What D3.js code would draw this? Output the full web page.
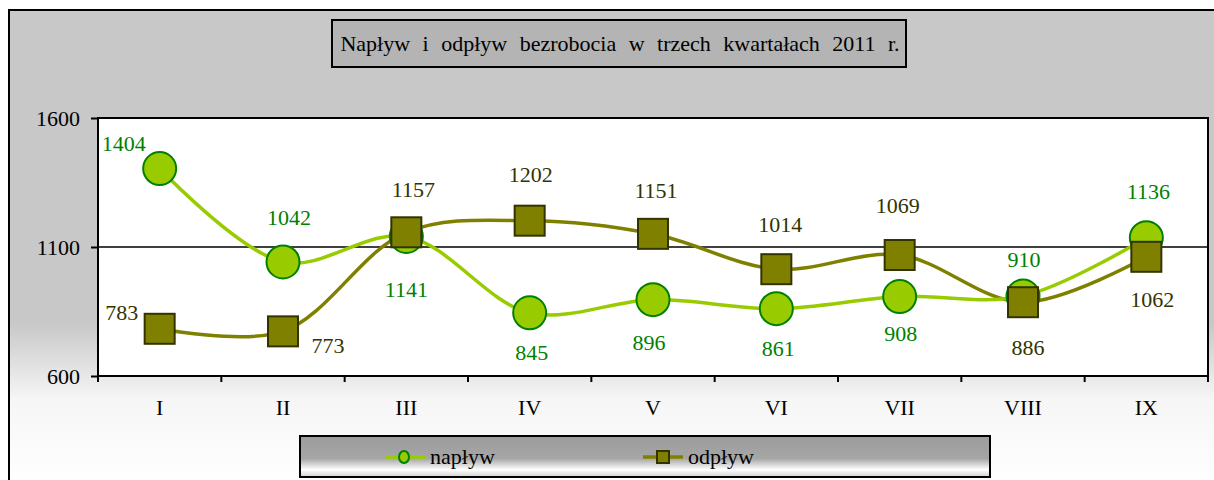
<!DOCTYPE html>
<html>
<head>
<meta charset="utf-8">
<script src="https://cdn.jsdelivr.net/npm/d3@7"></script>
<style>
  body { margin: 0; background: #fff; }
  svg text { font-family: "Liberation Serif", "Times New Roman", Times, "DejaVu Serif", serif; }
</style>
</head>
<body>
<svg id="chart1" width="1214" height="480"></svg>
<script>
// data
var months = ["I", "II", "III", "IV", "V", "VI", "VII", "VIII", "IX"];
var naplyw = [1404, 1042, 1141, 845, 896, 861, 908, 910, 1136];
var odplyw = [783, 773, 1157, 1202, 1151, 1014, 1069, 886, 1062];
var yTicks = [600, 1100, 1600];

// label offsets (dx, dy) from the marker centre
var napLbl = [[-36, -18], [6, -37], [0, 61], [2, 47], [-4, 50], [2, 47], [1, 44], [1, -29], [2, -39]];
var odpLbl = [[-38, -9], [45, 22], [7, -35], [1, -39], [3, -36], [4, -37], [-2, -42], [5, 53], [6, 50]];

var serif = "'Liberation Serif', 'Times New Roman', Times, 'DejaVu Serif', serif";
var fs = "22px";

var svg = d3.select('#chart1');
var defs = svg.append("defs");

var bg = defs.append("linearGradient").attr("id", "bgGrad")
	.attr("x1", 0).attr("y1", 0).attr("x2", 0).attr("y2", 1);
bg.append("stop").attr("offset", "0").attr("stop-color", "#c8c8c8");
bg.append("stop").attr("offset", "0.66").attr("stop-color", "#c8c8c8");
bg.append("stop").attr("offset", "0.82").attr("stop-color", "#f6f6f6");
bg.append("stop").attr("offset", "1").attr("stop-color", "#ffffff");

var lg = defs.append("linearGradient").attr("id", "lgGrad")
	.attr("x1", 0).attr("y1", 0).attr("x2", 0).attr("y2", 1);
lg.append("stop").attr("offset", "0").attr("stop-color", "#9c9c9c");
lg.append("stop").attr("offset", "0.55").attr("stop-color", "#a6a6a6");
lg.append("stop").attr("offset", "0.82").attr("stop-color", "#ffffff");
lg.append("stop").attr("offset", "1").attr("stop-color", "#d0d0d0");

// outer chart area
svg.append("rect")
	.attr("x", 9).attr("y", 10)
	.attr("width", 1210).attr("height", 475)
	.style("fill", "url(#bgGrad)")
	.style("stroke", "black")
	.style("stroke-width", 2);

// title box
svg.append("rect")
	.attr("x", 332).attr("y", 20)
	.attr("width", 574).attr("height", 47)
	.style("fill", "#b4b4b4")
	.style("stroke", "black")
	.style("stroke-width", 2);
svg.append("text")
	.attr("x", 620).attr("y", 51)
	.attr("text-anchor", "middle")
	.style("font-family", serif)
	.style("font-size", fs)
	.style("word-spacing", "7px")
	.text("Napływ i odpływ bezrobocia w trzech kwartałach 2011 r.");

var plot = {left: 98, right: 1208, top: 118, bottom: 376};

var x = d3.scaleBand().domain(months).range([plot.left, plot.right]).padding(0);
var y = d3.scaleLinear().domain([600, 1600]).range([plot.bottom, plot.top]);
var cx = function (d, i) { return x(months[i]) + x.bandwidth() / 2; };

// plot area
svg.append("rect")
	.attr("x", plot.left).attr("y", plot.top)
	.attr("width", plot.right - plot.left).attr("height", plot.bottom - plot.top)
	.style("fill", "white")
	.style("stroke", "black")
	.style("stroke-width", 2);

svg.selectAll(".grid")
	.data(yTicks.slice(1, -1))
	.enter().append("line")
	.attr("x1", plot.left).attr("x2", plot.right)
	.attr("y1", function (d) { return y(d); })
	.attr("y2", function (d) { return y(d); })
	.style("stroke", "black")
	.style("stroke-width", 1.5);

// axes
var yAxis = svg.append("g")
	.attr("transform", "translate(" + plot.left + ",0)")
	.call(d3.axisLeft(y).tickValues(yTicks).tickFormat(d3.format("d")).tickSize(7).tickPadding(11));
var xAxis = svg.append("g")
	.attr("transform", "translate(0," + plot.bottom + ")")
	.call(d3.axisBottom(x).tickSize(0).tickPadding(23));

[yAxis, xAxis].forEach(function (a) {
	a.attr("font-family", null).attr("font-size", null);
	a.select(".domain").remove();
	a.selectAll("line").style("stroke", "black").style("stroke-width", 2);
	a.selectAll("text")
		.style("font-size", fs)
		.style("font-family", serif)
		.attr("fill", "black");
});
yAxis.selectAll("text").attr("dy", "0.32em");

// x ticks on category boundaries
svg.selectAll(".xtick")
	.data(months.concat(["end"]))
	.enter().append("line")
	.attr("x1", function (d, i) { return plot.left + i * x.bandwidth(); })
	.attr("x2", function (d, i) { return plot.left + i * x.bandwidth(); })
	.attr("y1", plot.bottom).attr("y2", plot.bottom + 6)
	.style("stroke", "black")
	.style("stroke-width", 2);

var line = d3.line()
	.x(cx)
	.y(function (d) { return y(d); })
	.curve(d3.curveCatmullRom.alpha(0.5));

svg.append("path").datum(odplyw)
	.attr("d", line)
	.style("fill", "none")
	.style("stroke", "#808000")
	.style("stroke-width", 3.5);

svg.append("path").datum(naplyw)
	.attr("d", line)
	.style("fill", "none")
	.style("stroke", "#99cc00")
	.style("stroke-width", 3.5);

svg.selectAll(".nap")
	.data(naplyw)
	.enter().append("circle")
	.attr("cx", cx)
	.attr("cy", function (d) { return y(d); })
	.attr("r", 16.5)
	.style("fill", "#99cc00")
	.style("stroke", "#008000")
	.style("stroke-width", 2);

var sq = 30;
svg.selectAll(".odp")
	.data(odplyw)
	.enter().append("rect")
	.attr("x", function (d, i) { return cx(d, i) - sq / 2; })
	.attr("y", function (d) { return y(d) - sq / 2; })
	.attr("width", sq).attr("height", sq)
	.style("fill", "#808000")
	.style("stroke", "#333300")
	.style("stroke-width", 2);

// data labels
svg.selectAll(".napl")
	.data(naplyw)
	.enter().append("text")
	.attr("x", function (d, i) { return cx(d, i) + napLbl[i][0]; })
	.attr("y", function (d, i) { return y(d) + napLbl[i][1]; })
	.attr("text-anchor", "middle")
	.style("font-family", serif)
	.style("font-size", fs)
	.attr("fill", "#008000")
	.text(function (d) { return d; });

svg.selectAll(".odpl")
	.data(odplyw)
	.enter().append("text")
	.attr("x", function (d, i) { return cx(d, i) + odpLbl[i][0]; })
	.attr("y", function (d, i) { return y(d) + odpLbl[i][1]; })
	.attr("text-anchor", "middle")
	.style("font-family", serif)
	.style("font-size", fs)
	.attr("fill", "#333300")
	.text(function (d) { return d; });

// legend
svg.append("rect")
	.attr("x", 300).attr("y", 436)
	.attr("width", 690).attr("height", 41)
	.style("fill", "url(#lgGrad)")
	.style("stroke", "black")
	.style("stroke-width", 2);

var leg = svg.append("g");
leg.append("line").attr("x1", 385).attr("x2", 425).attr("y1", 457).attr("y2", 457)
	.style("stroke", "#99cc00").style("stroke-width", 3.5);
leg.append("ellipse").attr("cx", 404).attr("cy", 457).attr("rx", 5).attr("ry", 6)
	.style("fill", "#99cc00").style("stroke", "#008000").style("stroke-width", 2);
leg.append("text").attr("x", 430).attr("y", 464)
	.style("font-family", serif).style("font-size", fs).text("napływ");

leg.append("line").attr("x1", 643).attr("x2", 683).attr("y1", 457).attr("y2", 457)
	.style("stroke", "#808000").style("stroke-width", 3.5);
leg.append("rect").attr("x", 657).attr("y", 451).attr("width", 12).attr("height", 12)
	.style("fill", "#808000").style("stroke", "#333300").style("stroke-width", 2);
leg.append("text").attr("x", 688).attr("y", 464)
	.style("font-family", serif).style("font-size", fs).text("odpływ");
</script>
</body>
</html>
